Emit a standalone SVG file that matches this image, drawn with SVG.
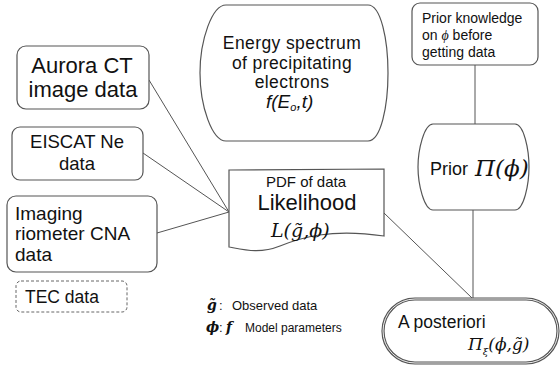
<svg xmlns="http://www.w3.org/2000/svg" width="560" height="368" viewBox="0 0 560 368">
<style>
.box{fill:#fff;stroke:#555;stroke-width:1.2}
.t{font-family:"Liberation Sans",Arial,sans-serif;fill:#111}
.m{font-family:"DejaVu Serif","Liberation Serif","Times New Roman",serif;font-style:italic;fill:#111}
.c{stroke:#555;stroke-width:1;fill:none}
</style>
<rect width="560" height="368" fill="#fff"/>
<g id="connectors">
<line class="c" x1="149" y1="80" x2="229" y2="212"/>
<line class="c" x1="143" y1="153" x2="229" y2="212"/>
<line class="c" x1="157" y1="233" x2="229" y2="212"/>
<line class="c" x1="384" y1="213" x2="472" y2="298"/>
<line class="c" x1="475" y1="65" x2="475" y2="124"/>
<line class="c" x1="473" y1="210" x2="473" y2="298"/>
</g>
<g id="energy">
<path class="box" d="M226,5 H368 C381,5 388,40 388,73 C388,106 381,141 368,141 H226 C212,141 200,106 200,73 C200,40 212,5 226,5 Z"/>
<text class="t" x="292" y="49" font-size="17.5" letter-spacing="0.4" text-anchor="middle">Energy spectrum</text>
<text class="t" x="292" y="68.5" font-size="17.5" letter-spacing="0.4" text-anchor="middle">of precipitating</text>
<text class="t" x="292" y="88" font-size="17.5" letter-spacing="0.4" text-anchor="middle">electrons</text>
<text class="t" x="266" y="108" font-size="19" font-style="italic">f(E<tspan font-size="11" dy="3">o</tspan><tspan dy="-3">,t)</tspan></text>
</g>
<g id="aurora">
<rect class="box" x="17" y="46" width="132" height="63" rx="9"/>
<text class="t" x="82" y="73" font-size="22" text-anchor="middle">Aurora CT</text>
<text class="t" x="83" y="97" font-size="22" text-anchor="middle">image data</text>
</g>
<g id="eiscat">
<rect class="box" x="12" y="127" width="131" height="53" rx="8"/>
<text class="t" x="77" y="148" font-size="18.5" text-anchor="middle">EISCAT Ne</text>
<text class="t" x="77" y="170" font-size="18.5" text-anchor="middle">data</text>
</g>
<g id="imaging">
<rect class="box" x="7" y="196" width="150" height="76" rx="9"/>
<text class="t" x="15" y="220" font-size="19">Imaging</text>
<text class="t" x="15" y="240" font-size="19">riometer CNA</text>
<text class="t" x="15" y="261" font-size="19">data</text>
</g>
<g id="tec">
<rect x="16" y="281" width="111" height="31" rx="5" fill="#fff" stroke="#666" stroke-width="1" stroke-dasharray="3,2"/>
<text class="t" x="25" y="303" font-size="17.5">TEC data</text>
</g>
<g id="likelihood">
<path class="box" d="M229,170 L384,169 L384,236 C330,228 300,238 280,246 C260,254 245,250 229,247 Z"/>
<text class="t" x="306" y="187" font-size="15" text-anchor="middle">PDF of data</text>
<text class="t" x="307" y="210" font-size="22" text-anchor="middle">Likelihood</text>
<text class="m" x="271" y="237" font-size="19">L(g̃,ϕ)</text>
</g>
<g id="legend">
<text class="m" x="207" y="310" font-size="14" font-weight="bold">g̃</text>
<text class="t" x="219" y="310" font-size="13">:</text>
<text class="t" x="232" y="310" font-size="13">Observed data</text>
<text class="m" x="206" y="332" font-size="14" font-weight="bold">ϕ</text>
<text class="t" x="219" y="332" font-size="13">:</text>
<text class="m" x="226" y="332" font-size="14" font-weight="bold">f</text>
<text class="t" x="245" y="332" font-size="12">Model parameters</text>
</g>
<g id="priorknowledge">
<rect class="box" x="412" y="3" width="126" height="62" rx="8"/>
<text class="t" x="422" y="23" font-size="14">Prior knowledge</text>
<text class="t" x="422" y="40" font-size="14">on <tspan font-family="'Liberation Serif',serif" font-style="italic">ϕ</tspan> before</text>
<text class="t" x="422" y="57" font-size="14">getting data</text>
</g>
<g id="prior">
<path class="box" d="M433,124 H515 C524,124 529,150 529,167 C529,184 524,210 515,210 H433 C424,210 418,184 418,167 C418,150 424,124 433,124 Z"/>
<text class="t" x="430" y="175" font-size="18">Prior</text>
<text class="m" x="475" y="176" font-size="23" font-family="'Liberation Serif',serif">Π(ϕ)</text>
</g>
<g id="posterior">
<rect x="383" y="299" width="175" height="64" rx="32" fill="#fff" stroke="#555" stroke-width="3.2"/>
<rect x="383" y="299" width="175" height="64" rx="32" fill="none" stroke="#fff" stroke-width="0.9"/>
<text class="t" x="398" y="328" font-size="17.5">A posteriori</text>
<text class="m" x="468" y="350" font-size="17">Π<tspan font-size="10" dy="5">ξ</tspan><tspan dy="-5">(ϕ,g̃)</tspan></text>
</g>
</svg>
